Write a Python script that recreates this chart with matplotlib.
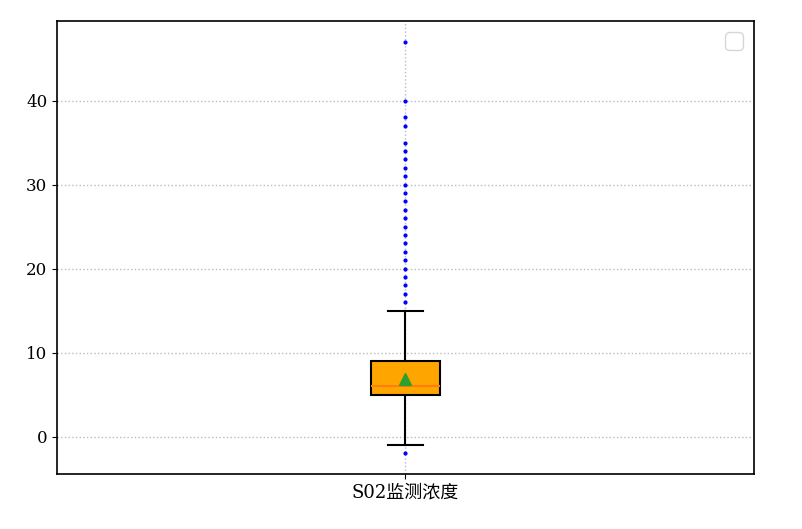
import matplotlib
matplotlib.use("Agg")
import matplotlib.pyplot as plt

plt.rcParams['font.family'] = ['DejaVu Serif', 'Noto Sans CJK SC']
plt.rcParams['axes.unicode_minus'] = False

label = "S02监测浓度"
q1, median, q3 = 5, 6, 9
mean = 6.9
whislo, whishi = -1, 15
fliers = [-2, 16, 17, 18, 19, 20, 21, 22, 23, 24, 25, 26, 27, 28, 29, 30,
          31, 32, 33, 34, 35, 37, 38, 40, 47]

stats = [dict(label=label, med=median, q1=q1, q3=q3, mean=mean,
              whislo=whislo, whishi=whishi, fliers=fliers)]

fig = plt.figure(figsize=(8.02, 5.29), dpi=100)
ax = fig.add_axes([0.0711, 0.104, 0.869, 0.856])

ax.bxp(stats, positions=[1], widths=0.1, showmeans=True, patch_artist=True,
       boxprops=dict(facecolor='orange', edgecolor='black', linewidth=1.5),
       medianprops=dict(color='#ff7f0e', linewidth=1.5),
       whiskerprops=dict(color='black', linewidth=1.5),
       capprops=dict(color='black', linewidth=1.5),
       meanprops=dict(marker='^', markerfacecolor='#2ca02c', markeredgecolor='#2ca02c', markersize=9),
       flierprops=dict(marker='o', markerfacecolor='blue', markeredgecolor='blue', markersize=2))

ax.set_xlim(0.5, 1.5)
ax.grid(True, linestyle=':', color='#bbbbbb', linewidth=1)
ax.set_axisbelow(True)
ax.tick_params(axis='y', labelsize=12)
ax.tick_params(axis='x', labelsize=13)
for s in ax.spines.values():
    s.set_linewidth(1.2)
ax.legend(fontsize=16)

fig.savefig("out.png", dpi=100)
